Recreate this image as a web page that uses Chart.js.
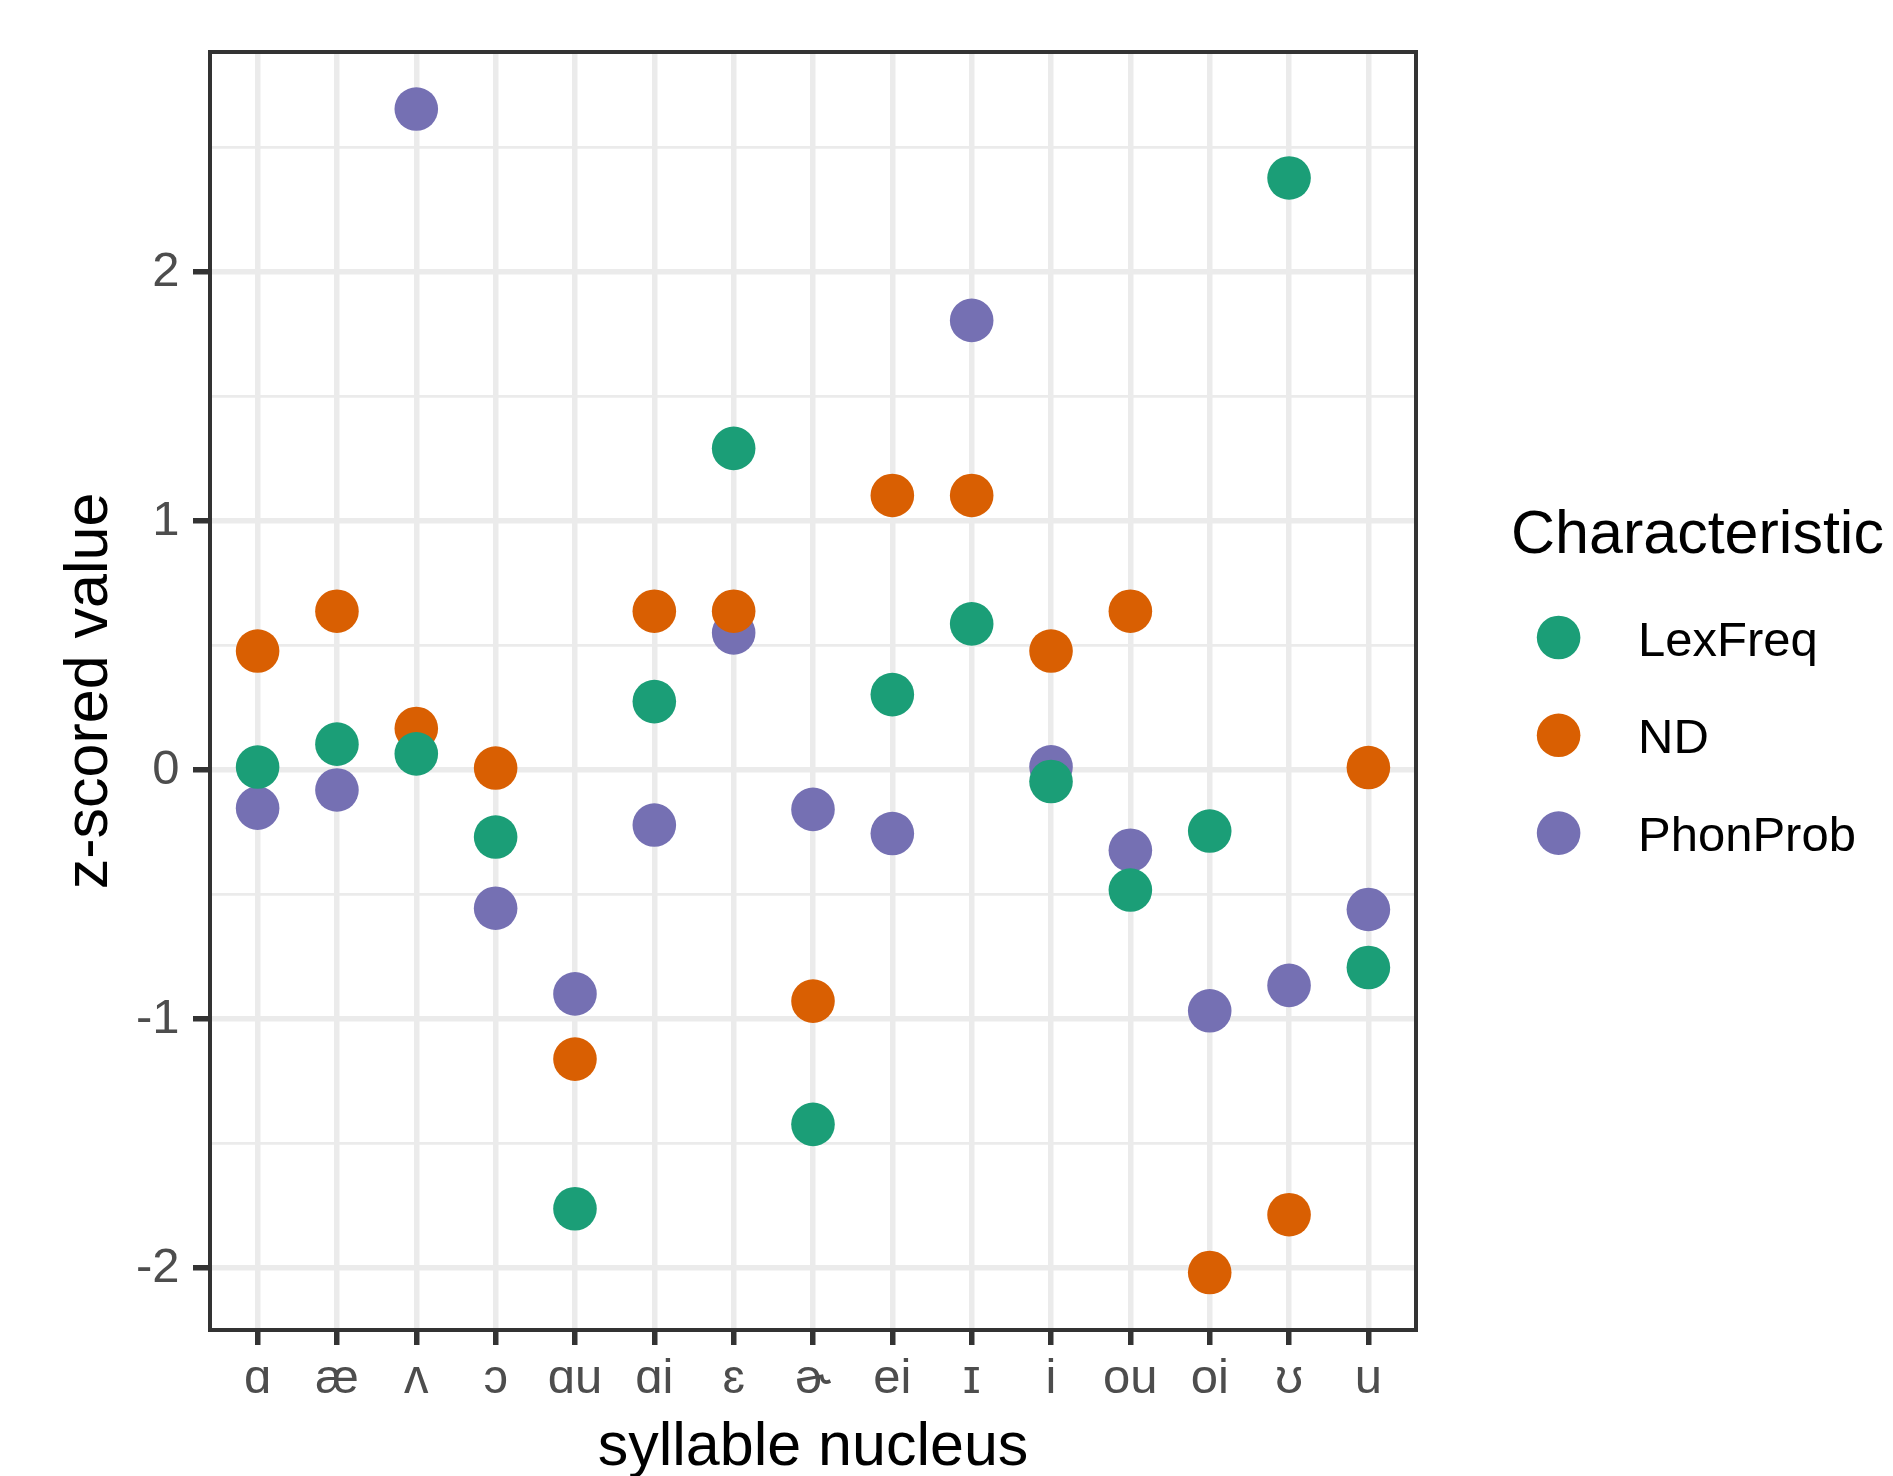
<!DOCTYPE html>
<html>
<head>
<meta charset="utf-8">
<script src="https://cdn.jsdelivr.net/npm/chart.js@4.4.1/dist/chart.umd.min.js"></script>
<style>
  html, body { margin: 0; padding: 0; background: #ffffff; }
  #wrap { width: 1893px; height: 1476px; position: relative; }
</style>
</head>
<body>
<div id="wrap"><canvas id="c" width="1893" height="1476"></canvas></div>
<script>
// ---- data ----
const categories = ["ɑ", "æ", "ʌ", "ɔ", "ɑu", "ɑi", "ɛ", "ɚ", "ei", "ɪ", "i", "ou", "oi", "ʊ", "u"];
const lexFreq  = [0.012, 0.104, 0.065, -0.269, -1.762, 0.275, 1.292, -1.423, 0.303, 0.587, -0.046, -0.482, -0.245, 2.378, -0.793];
const nd       = [0.478, 0.638, 0.167, 0.008, -1.161, 0.638, 0.638, -0.928, 1.103, 1.103, 0.478, 0.638, -2.018, -1.786, 0.010];
const phonProb = [-0.153, -0.080, 2.655, -0.555, -0.899, -0.221, 0.551, -0.158, -0.255, 1.806, 0.013, -0.322, -0.967, -0.865, -0.560];
const seriesNames = ["LexFreq", "ND", "PhonProb"];
const seriesColors = ["#1B9E77", "#D95F02", "#7570B3"];
const yMajorTicks = [-2, -1, 0, 1, 2];
const yMinorTicks = [-1.5, -0.5, 0.5, 1.5, 2.5];
const legendTitle = "Characteristic";
const xTitle = "syllable nucleus";
const yTitle = "z-scored value";

const FONT = "'Liberation Sans', Arial, Helvetica, sans-serif";
Chart.defaults.font.family = FONT;

function toPoints(arr) { return arr.map((v, i) => ({ x: i, y: v })); }
const seriesValues = [lexFreq, nd, phonProb];

const datasets = seriesNames.map((name, k) => ({
  label: name,
  data: toPoints(seriesValues[k]),
  showLine: false,
  backgroundColor: seriesColors[k],
  borderColor: seriesColors[k],
  borderWidth: 0,
  pointRadius: 21.8,
  pointHoverRadius: 21.8,
  pointBorderWidth: 0
}));

const panelBorder = {
  id: 'panelBorder',
  afterDatasetsDraw(chart) {
    const a = chart.chartArea, ctx = chart.ctx;
    ctx.save();
    ctx.strokeStyle = '#333333';
    ctx.lineWidth = 4;
    ctx.strokeRect(a.left, a.top, a.right - a.left, a.bottom - a.top);
    ctx.restore();
  }
};

const ggLegend = {
  id: 'ggLegend',
  afterDraw(chart) {
    const ctx = chart.ctx;
    ctx.save();
    ctx.fillStyle = '#000000';
    ctx.font = "61px " + FONT;
    ctx.textAlign = 'left';
    ctx.textBaseline = 'alphabetic';
    ctx.fillText(legendTitle, 1511, 553);
    chart.data.datasets.forEach((ds, i) => {
      const cy = 637.5 + i * 97.8;
      ctx.beginPath();
      ctx.fillStyle = ds.backgroundColor;
      ctx.arc(1558.6, cy, 21.8, 0, Math.PI * 2);
      ctx.fill();
      ctx.fillStyle = '#000000';
      ctx.font = "49px " + FONT;
      ctx.fillText(ds.label, 1638, cy + 18);
    });
    ctx.restore();
  }
};

new Chart(document.getElementById('c'), {
  type: 'scatter',
  data: { datasets },
  options: {
    responsive: false,
    animation: false,
    events: [],
    layout: { padding: { left: 0, right: 477, top: 52, bottom: 0 } },
    plugins: { legend: { display: false }, tooltip: { enabled: false } },
    scales: {
      x: {
        type: 'linear',
        min: -0.6,
        max: categories.length - 1 + 0.6,
        afterBuildTicks: (s) => { s.ticks = categories.map((c, i) => ({ value: i })); },
        afterFit: (s) => { s.height = 146; },
        border: { display: false },
        grid: {
          color: '#EBEBEB',
          lineWidth: 5.5,
          drawTicks: true,
          tickLength: 15,
          tickWidth: 5.5,
          tickColor: '#333333'
        },
        ticks: {
          autoSkip: false,
          maxRotation: 0,
          minRotation: 0,
          padding: 5.5,
          color: '#4D4D4D',
          font: { size: 49, lineHeight: 1.2 },
          callback: (v) => categories[v]
        },
        title: {
          display: true,
          text: xTitle,
          color: '#000000',
          font: { size: 61, lineHeight: 1 },
          padding: { top: 0, bottom: -2.5 }
        }
      },
      y: {
        type: 'linear',
        min: -2.249,
        max: 2.884,
        afterBuildTicks: (s) => {
          s.ticks = yMajorTicks.concat(yMinorTicks).sort((a, b) => a - b).map(v => ({ value: v }));
        },
        afterFit: (s) => { s.width = 210; },
        border: { display: false },
        grid: {
          color: '#EBEBEB',
          lineWidth: (c) => (c.tick && yMajorTicks.includes(c.tick.value)) ? 5.5 : 2.75,
          drawTicks: true,
          tickLength: 17,
          tickWidth: 5.5,
          tickColor: (c) => (c.tick && yMajorTicks.includes(c.tick.value)) ? '#333333' : 'rgba(0,0,0,0)'
        },
        ticks: {
          padding: 13.5,
          color: '#4D4D4D',
          font: { size: 49, lineHeight: 1.2 },
          callback: (v) => yMajorTicks.includes(v) ? String(v) : ''
        },
        title: {
          display: true,
          text: yTitle,
          color: '#000000',
          font: { size: 61, lineHeight: 1 },
          padding: { top: 59.5, bottom: 0 }
        }
      }
    }
  },
  plugins: [panelBorder, ggLegend]
});
</script>
</body>
</html>
